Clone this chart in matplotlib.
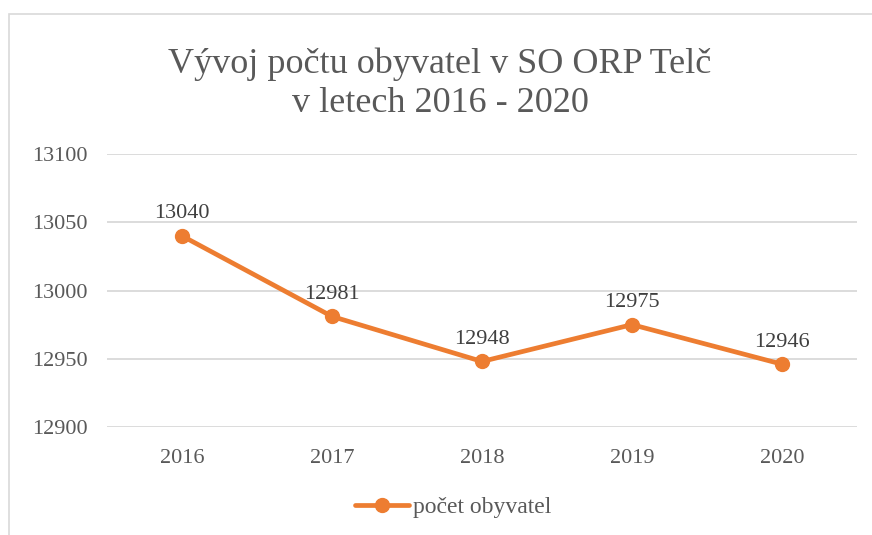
import matplotlib
matplotlib.use('Agg')
import matplotlib.pyplot as plt
from matplotlib.patches import Rectangle

roky = ['2016', '2017', '2018', '2019', '2020']
obyvatele = [13040, 12981, 12948, 12975, 12946]
y_ticks = [12900, 12950, 13000, 13050, 13100]

plt.rcParams['font.family'] = ['Liberation Serif', 'DejaVu Serif']

W, H = 872, 535
fig = plt.figure(figsize=(W / 100, H / 100), dpi=100)
ax = fig.add_axes([107 / W, 1 - 427 / H, 750 / W, (427 - 154) / H])

# ramecek grafu
fig.patches.append(Rectangle((9 / W, -0.1), 1.2, 1 - 14 / H + 0.1, transform=fig.transFigure,
                             fill=False, edgecolor='#d9d9d9', linewidth=1.2))

x = list(range(len(roky)))
ax.plot(x, obyvatele, color='#ED7D31', linewidth=3.4, marker='o', markersize=10,
        solid_capstyle='round', label='počet obyvatel', zorder=3)

for xi, v in zip(x, obyvatele):
    ax.annotate(str(v), (xi, v), xytext=(0, 9), textcoords='offset points',
                ha='center', va='bottom', fontsize=16, color='#404040')

ax.set_xlim(-0.5, len(roky) - 0.5)
ax.set_ylim(12900, 13100)
ax.set_xticks(x)
ax.set_xticklabels(roky)
ax.set_yticks(y_ticks)
ax.grid(axis='y', color='#d9d9d9', linewidth=1.3, zorder=0)
for s in ax.spines.values():
    s.set_visible(False)
ax.tick_params(length=0, labelsize=16, labelcolor='#595959', pad=14)
ax.tick_params(axis='x', pad=16)

fig.text(440 / W, 1 - 84 / H, 'Vývoj počtu obyvatel v SO ORP Telč\nv letech 2016 - 2020',
         ha='center', va='center', fontsize=26, color='#595959', linespacing=1.25)

fig.legend(loc='center', bbox_to_anchor=(453 / W, 1 - 507 / H), frameon=False,
           fontsize=17, labelcolor='#595959', handlelength=2.3, handletextpad=0.15)

fig.savefig('out.png', dpi=100)
